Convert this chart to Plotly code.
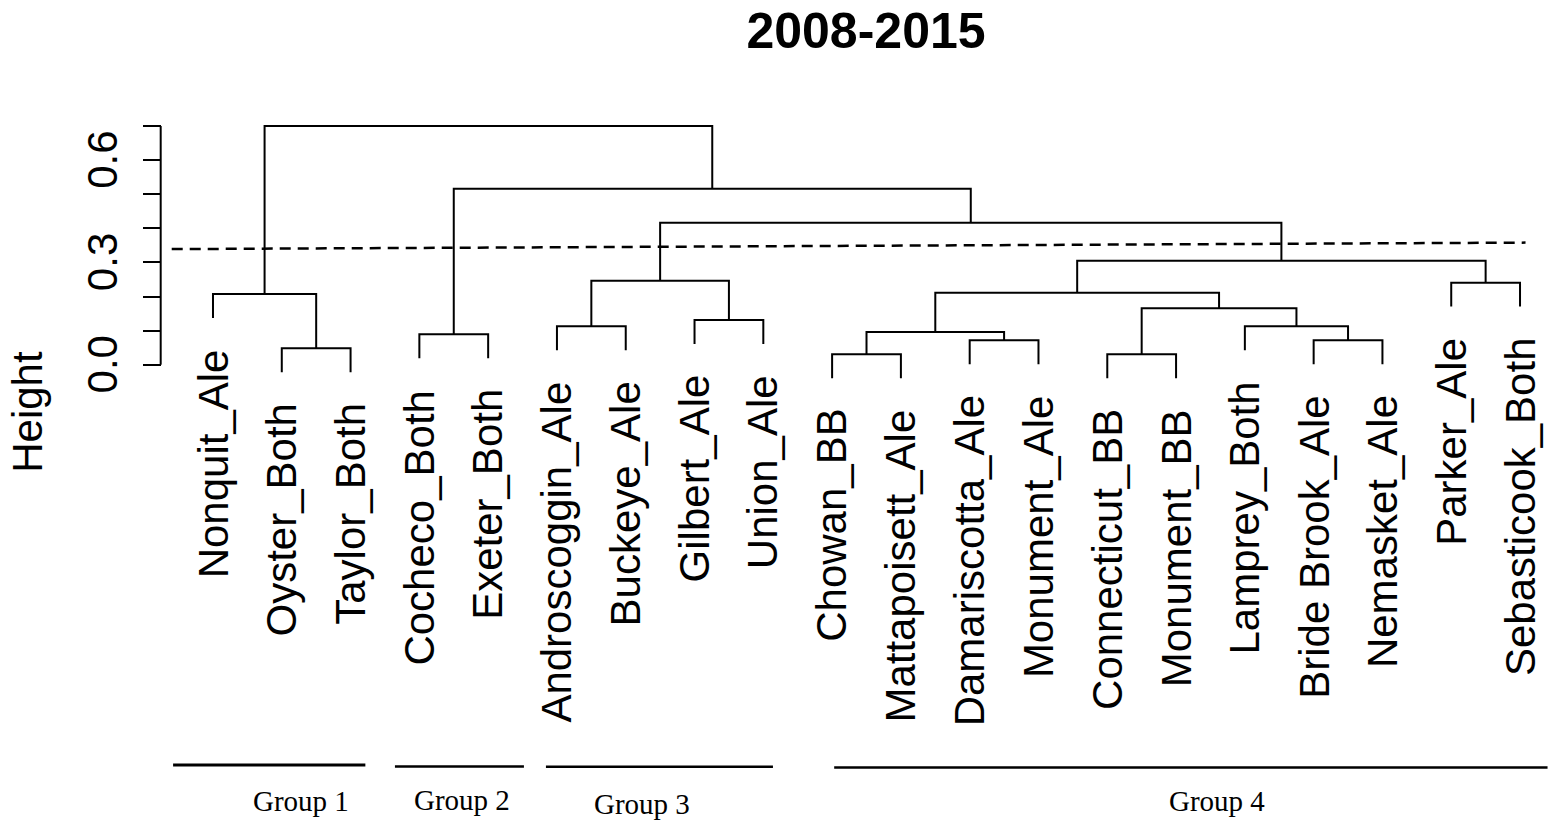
import plotly.graph_objects as go

# Leaves in plotted order
leaves = ["Nonquit_Ale", "Oyster_Both", "Taylor_Both", "Cocheco_Both", "Exeter_Both",
          "Androscoggin_Ale", "Buckeye_Ale", "Gilbert_Ale", "Union_Ale", "Chowan_BB",
          "Mattapoisett_Ale", "Damariscotta_Ale", "Monument_Ale", "Connecticut_BB", "Monument_BB",
          "Lamprey_Both", "Bride Brook_Ale", "Nemasket_Ale", "Parker_Ale", "Sebasticook_Both"]

# hclust-style merges: negative = leaf (1-based), positive = earlier merge
merge_left = [-2, -10, -14, -12, -17, -4, 2, -6, -16, -8, 3, -1, 7, -19, 8, 13, 15, 6, 12]
merge_right = [-3, -11, -15, -13, -18, -5, 4, -7, 5, -9, 9, 1, 11, -20, 10, 14, 16, 17, 18]
merge_height = [0.048, 0.0305, 0.0305, 0.0716, 0.0716, 0.089, 0.096, 0.1126, 0.1126, 0.131,
                0.1654, 0.2073, 0.2111, 0.2405, 0.2463, 0.305, 0.4164, 0.5161, 0.700]

hang = 0.07
cut_x = [0.40, 20.08]
cut_y = [0.339, 0.358]

groups = ["Group 1", "Group 2", "Group 3", "Group 4"]
group_start = [0.42, 3.645, 5.84, 10.03]
group_end = [3.215, 5.52, 9.14, 20.40]
group_line_y = [-1.174, -1.178, -1.179, -1.181]
group_label_x = [2.28, 4.62, 7.235, 15.59]
group_label_y = [-1.279, -1.276, -1.287, -1.279]

y_ticks = [0.0, 0.1, 0.2, 0.3, 0.4, 0.5, 0.6, 0.7]
y_ticktext = ["0.0", "", "", "0.3", "", "", "0.6", ""]

# ---------------------------------------------------------------------------
# Build dendrogram segments
node_x = []
seg_x, seg_y = [], []


def child_pos(c):
    if c < 0:
        return c * -1, None
    return node_x[c - 1], merge_height[c - 1]


for i in range(len(merge_height)):
    h = merge_height[i]
    xl, hl = child_pos(merge_left[i])
    xr, hr = child_pos(merge_right[i])
    if hl is None:
        hl = h - hang
    if hr is None:
        hr = h - hang
    seg_x += [xl, xl, xr, xr, None]
    seg_y += [hl, h, h, hr, None]
    node_x.append((xl + xr) / 2)

fig = go.Figure()

fig.add_trace(go.Scatter(x=seg_x, y=seg_y, mode="lines",
                         line=dict(color="black", width=2), hoverinfo="skip"))

# cut line
fig.add_trace(go.Scatter(x=cut_x, y=cut_y, mode="lines",
                         line=dict(color="black", width=2.5, dash="11px,7px"), hoverinfo="skip"))

# y axis line (R style, only between first and last tick)
axis_x = 0.2397
fig.add_trace(go.Scatter(x=[axis_x, axis_x], y=[y_ticks[0], y_ticks[-1]], mode="lines",
                         line=dict(color="black", width=2), hoverinfo="skip"))

# group underlines
for g in range(len(groups)):
    fig.add_trace(go.Scatter(x=[group_start[g], group_end[g]], y=[group_line_y[g], group_line_y[g]],
                             mode="lines", line=dict(color="black", width=3 if g == 0 else 2.5),
                             hoverinfo="skip"))
    fig.add_annotation(x=group_label_x[g], y=group_label_y[g], text=groups[g], showarrow=False,
                       xanchor="center", yanchor="middle",
                       font=dict(family="Liberation Serif", size=29, color="black"))

# leaf labels
leaf_height = {}
for i in range(len(merge_height)):
    for c in (merge_left[i], merge_right[i]):
        if c < 0:
            leaf_height[-c] = merge_height[i]

for k, name in enumerate(leaves):
    idx = k + 1
    fig.add_annotation(x=idx, y=leaf_height[idx] - hang - 0.085, text=name, showarrow=False,
                       textangle=-90, xanchor="center", yanchor="top",
                       font=dict(family="Liberation Sans", size=42, color="black"))

# page body has an 8px margin, so the figure is drawn 8px in from the window edge
W, H = 1548, 814
ml = 52
plot_w = W - ml

# Height label
fig.add_annotation(x=(20 - ml) / plot_w, xref="paper", y=-0.138, yref="y", text="Height",
                   showarrow=False, textangle=-90, xanchor="center", yanchor="middle",
                   font=dict(family="Liberation Sans", size=42, color="black"))

fig.update_layout(
    width=W, height=H,
    margin=dict(l=ml, r=0, t=0, b=0),
    paper_bgcolor="white", plot_bgcolor="white",
    showlegend=False,
    title=dict(text="<b>2008-2015</b>", x=858 / W, xref="container", xanchor="center",
               y=1 - 22 / H, yref="container", yanchor="middle",
               font=dict(family="Liberation Sans", size=50, color="black")),
    xaxis=dict(range=[-1.224, 20.523], visible=False, fixedrange=True),
    yaxis=dict(range=[-1.341, 1.046], anchor="free", position=(152.7 - ml) / plot_w,
               showgrid=False, zeroline=False, showline=False,
               tickmode="array", tickvals=y_ticks,
               ticktext=[t + "\u00a0" if t else t for t in y_ticktext],
               ticks="outside", ticklen=18, tickwidth=2, tickcolor="black",
               ticklabelstandoff=9,
               tickangle=-90, tickfont=dict(family="Liberation Sans", size=42, color="black"),
               fixedrange=True),
)

fig.write_html("out.html", config={"displayModeBar": False})
